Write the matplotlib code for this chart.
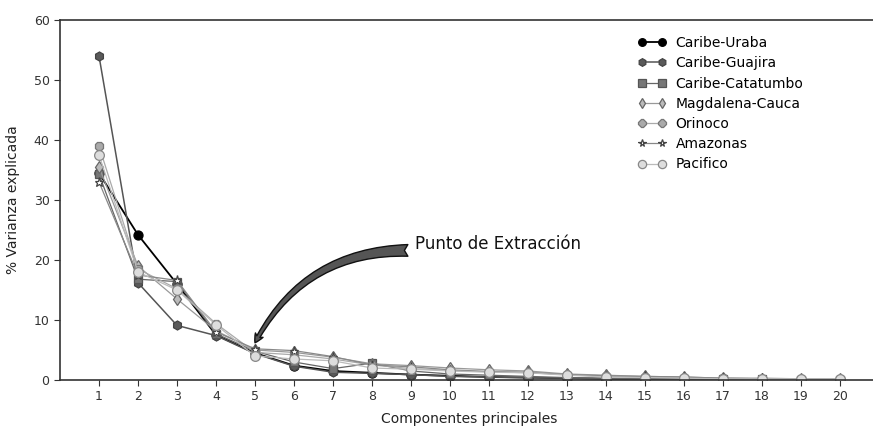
import matplotlib
matplotlib.use("Agg")
import matplotlib.pyplot as plt

components = list(range(1, 21))
series_names = ["Caribe-Uraba", "Caribe-Guajira", "Caribe-Catatumbo",
                "Magdalena-Cauca", "Orinoco", "Amazonas", "Pacifico"]

caribe_uraba = [34.5, 24.2, 16.0, 7.5, 4.5, 2.4, 1.5, 1.2, 0.9, 0.7, 0.5, 0.4, 0.3, 0.2, 0.15, 0.1, 0.1, 0.05, 0.05, 0.05]
caribe_guajira = [54.0, 16.2, 9.1, 7.4, 4.4, 2.3, 1.3, 1.1, 0.9, 0.6, 0.5, 0.4, 0.3, 0.2, 0.15, 0.1, 0.1, 0.05, 0.05, 0.05]
caribe_catatumbo = [34.3, 16.8, 16.4, 7.7, 4.8, 3.0, 1.9, 2.8, 1.5, 1.0, 0.8, 0.6, 0.4, 0.3, 0.2, 0.15, 0.1, 0.1, 0.05, 0.05]
magdalena_cauca = [35.5, 19.0, 13.5, 8.2, 5.0, 4.6, 3.8, 2.7, 2.4, 2.0, 1.7, 1.5, 1.0, 0.8, 0.6, 0.5, 0.3, 0.2, 0.2, 0.1]
orinoco = [39.0, 18.5, 15.2, 9.4, 4.6, 4.2, 3.5, 2.5, 1.9, 1.6, 1.4, 1.2, 0.9, 0.6, 0.5, 0.4, 0.3, 0.2, 0.2, 0.2]
amazonas = [33.0, 17.5, 16.6, 8.0, 5.2, 4.9, 3.9, 2.5, 2.2, 1.7, 1.4, 1.3, 0.9, 0.7, 0.6, 0.5, 0.3, 0.3, 0.2, 0.2]
pacifico = [37.5, 18.0, 15.0, 9.2, 4.0, 3.5, 3.2, 2.0, 1.8, 1.5, 1.3, 1.2, 0.8, 0.5, 0.4, 0.3, 0.2, 0.2, 0.2, 0.2]

values = [caribe_uraba, caribe_guajira, caribe_catatumbo, magdalena_cauca,
          orinoco, amazonas, pacifico]

styles = [
    dict(marker="o", color="#000000", mfc="#000000", mec="#000000", ms=6.5, lw=1.3),
    dict(marker="h", color="#555555", mfc="#5a5a5a", mec="#444444", ms=6.5, lw=1.1),
    dict(marker="s", color="#666666", mfc="#777777", mec="#555555", ms=6, lw=0.9),
    dict(marker="d", color="#999999", mfc="#bbbbbb", mec="#666666", ms=6.5, lw=0.9),
    dict(marker="8", color="#aaaaaa", mfc="#aaaaaa", mec="#777777", ms=6.5, lw=0.9),
    dict(marker="*", color="#888888", mfc="#ffffff", mec="#444444", ms=6.5, lw=0.9),
    dict(marker="o", color="#bbbbbb", mfc="#dddddd", mec="#888888", ms=7, lw=0.9),
]

fig = plt.figure(figsize=(8.73, 4.28), dpi=100)
ax = fig.add_axes([60 / 873, 48 / 428, 819 / 873, 360 / 428])

for name, vals, st in zip(series_names, values, styles):
    ax.plot(components, vals, label=name, marker=st["marker"], color=st["color"],
            markerfacecolor=st["mfc"], markeredgecolor=st["mec"],
            markersize=st["ms"], linewidth=st["lw"], markeredgewidth=0.9)

ax.set_xlim(0, 21)
ax.set_ylim(0, 60)
ax.set_xticks(components)
ax.set_yticks(range(0, 61, 10))
ax.tick_params(axis="both", labelsize=9, colors="#333333", direction="out", length=4)
for sp in ax.spines.values():
    sp.set_color("#333333")
    sp.set_linewidth(1.2)

ax.set_xlabel("Componentes principales", fontsize=10, color="#222222", labelpad=6)
ax.set_ylabel("% Varianza explicada", fontsize=10, color="#222222", labelpad=10)

ax.text(9.1, 22.6, "Punto de Extracción", fontsize=12, color="#111111",
        va="center", ha="left")
ax.annotate("", xy=(5, 6.2), xytext=(8.92, 21.6),
            arrowprops=dict(arrowstyle="fancy,head_length=0.45,head_width=0.45,tail_width=0.6",
                            connectionstyle="arc3,rad=0.3", fc="#555555", ec="#111111",
                            lw=1.0, mutation_scale=14, shrinkA=0, shrinkB=0))

leg = ax.legend(loc="upper left", bbox_to_anchor=(638 / 873, 1 - 36 / 428),
                bbox_transform=fig.transFigure, frameon=False,
                fontsize=10, numpoints=2, handlelength=2.0, labelspacing=0.45,
                handletextpad=0.7, borderaxespad=0.0, borderpad=0.0, markerscale=0.85)

fig.savefig("out.png", dpi=100)
